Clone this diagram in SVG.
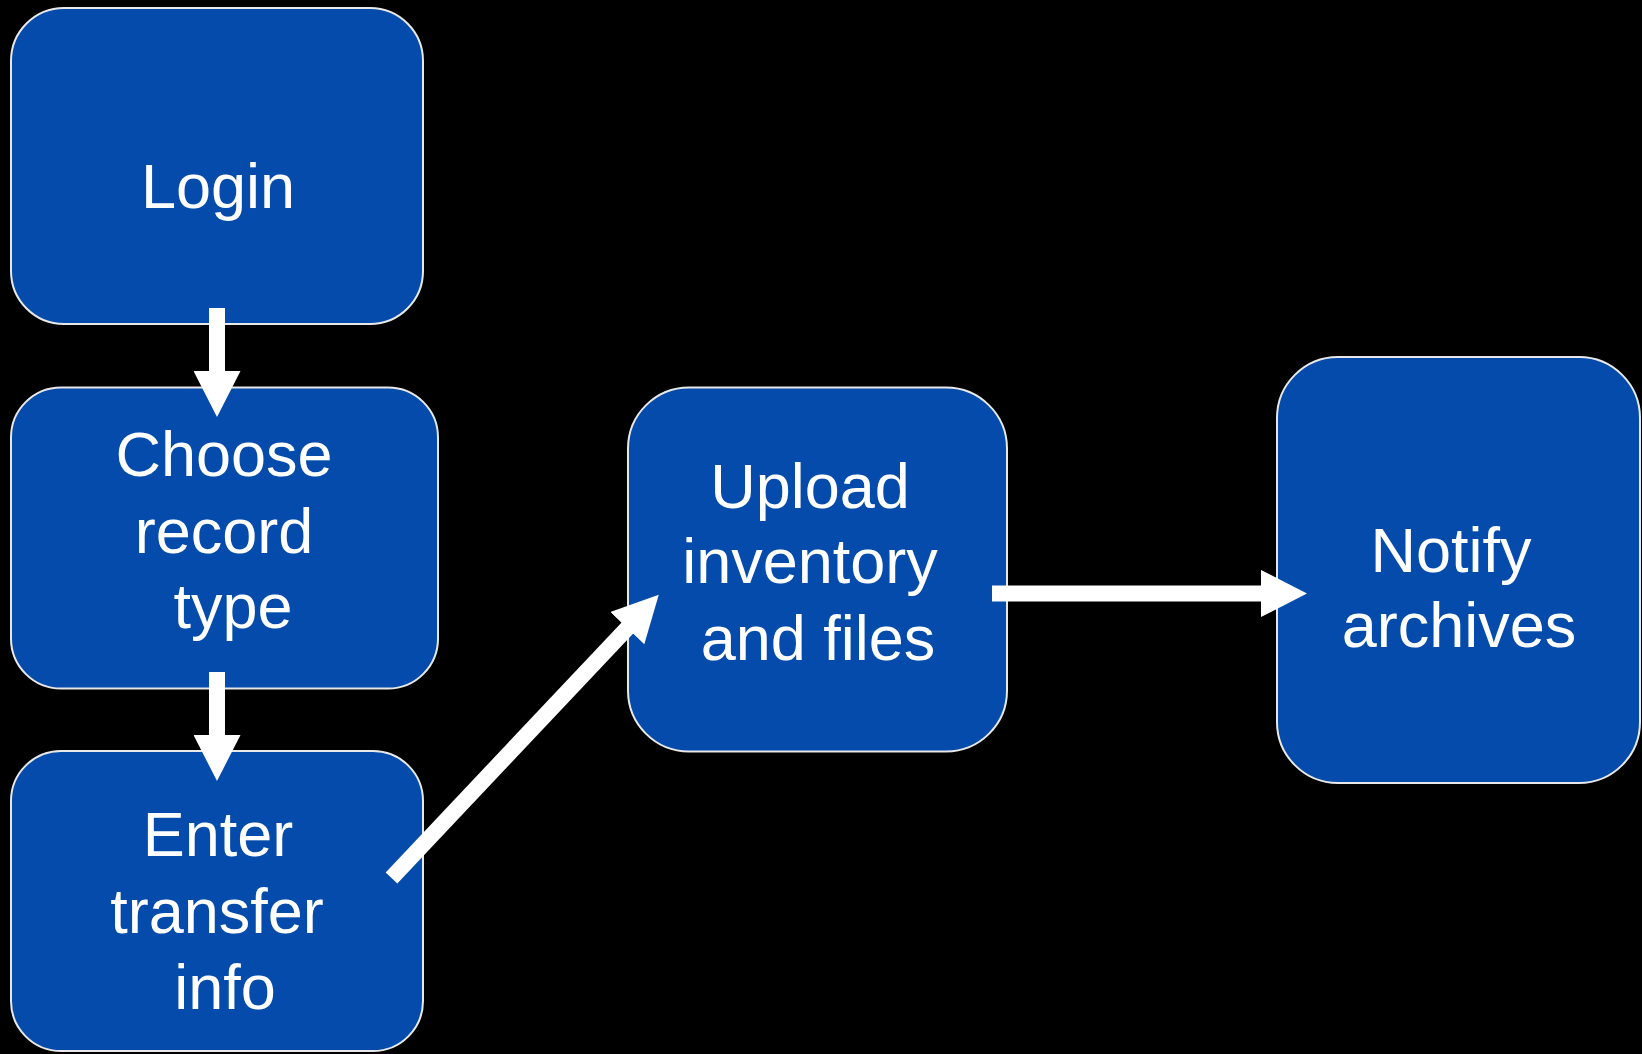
<svg xmlns="http://www.w3.org/2000/svg" width="1642" height="1054" viewBox="0 0 1642 1054">
<style>
.box{fill:#044BAB;stroke:#E8E8E8;stroke-width:2}
.lbl{font-family:"Liberation Sans",Arial,sans-serif;font-size:63px;fill:#FFFFFF;text-anchor:middle}
.conn{stroke:#FFFFFF;stroke-width:16;fill:none;stroke-linecap:butt;marker-end:url(#ah)}
</style>
<defs>
<marker id="ah" markerUnits="userSpaceOnUse" viewBox="0 0 46 47" markerWidth="46" markerHeight="47" refX="1" refY="23.5" orient="auto">
<path d="M0,0 L46,23.5 L0,47 Z" fill="#FFFFFF"/>
</marker>
</defs>
<rect width="1642" height="1054" fill="#000000"/>
<g id="login">
<rect class="box" x="11" y="8" width="412" height="316" rx="53" ry="53"/>
<text class="lbl" x="218" y="208">Login</text>
</g>
<g id="choose">
<rect class="box" x="11" y="387.5" width="427" height="301" rx="50" ry="50"/>
<text class="lbl" x="224" y="476">Choose</text>
<text class="lbl" x="224" y="553">record</text>
<text class="lbl" x="233" y="628">type</text>
</g>
<g id="enter">
<rect class="box" x="11" y="751" width="412" height="300" rx="50" ry="50"/>
<text class="lbl" x="218" y="856">Enter</text>
<text class="lbl" x="217" y="933">transfer</text>
<text class="lbl" x="225" y="1009">info</text>
</g>
<g id="upload">
<rect class="box" x="628" y="387.5" width="379" height="364" rx="61" ry="61"/>
<text class="lbl" x="810" y="508">Upload</text>
<text class="lbl" x="810" y="583">inventory</text>
<text class="lbl" x="818" y="660">and files</text>
</g>
<g id="notify">
<rect class="box" x="1277" y="357" width="363" height="426" rx="61" ry="61"/>
<text class="lbl" x="1451" y="572">Notify</text>
<text class="lbl" x="1459" y="647">archives</text>
</g>
<g id="connectors">
<line class="conn" x1="217" y1="308" x2="217" y2="372"/>
<line class="conn" x1="217" y1="672" x2="217" y2="736"/>
<line class="conn" x1="391.5" y1="878" x2="627.9" y2="627.4"/>
<line class="conn" x1="992" y1="593.5" x2="1262" y2="593.5"/>
</g>
</svg>
